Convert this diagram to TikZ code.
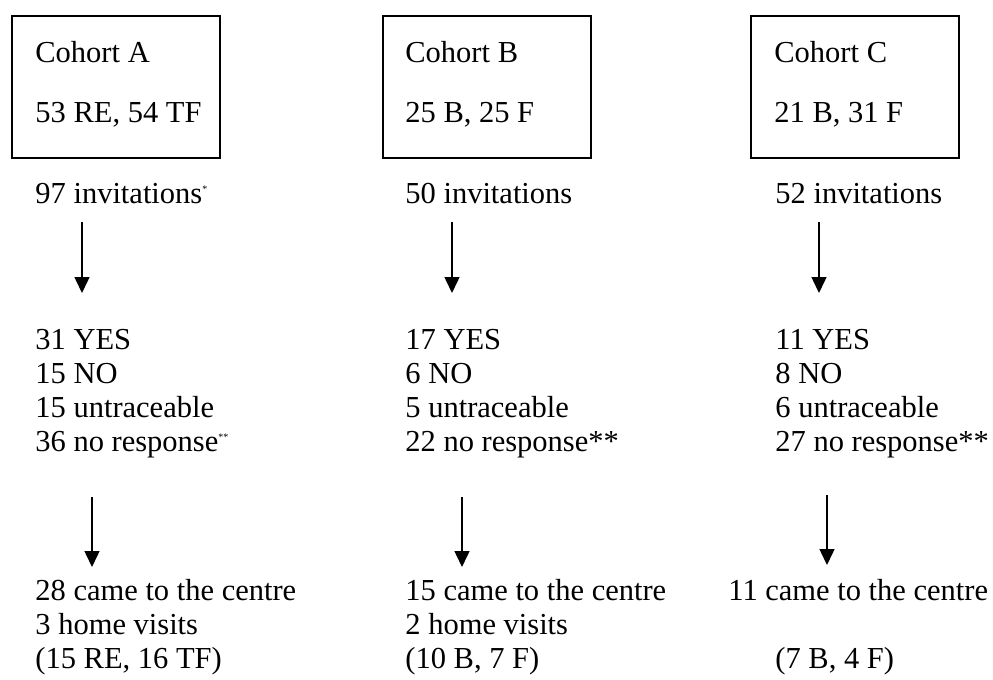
\documentclass[tikz,border=0pt]{standalone}
\usepackage{fontspec}
\setmainfont{Liberation Serif}
\usetikzlibrary{positioning,arrows.meta,calc}

\begin{document}
\begin{tikzpicture}[
    x=0.5pt, y=-0.5pt,
    cohort/.style={rectangle, draw, line width=0.9pt, anchor=north west, minimum width=104pt, minimum height=71pt, inner sep=0pt},
    count/.style={anchor=base west, inner sep=0pt, align=left, font=\fontsize{15.25pt}{17pt}\selectfont},
    arrow/.style={-{Triangle[width=7.5pt,length=8pt]}, line width=0.75pt}
]
\useasboundingbox (0,0) rectangle (993,680);

% Cohorts
\node[cohort] (cohA) at (11,15) {};
\node[cohort] (cohB) at (382,15) {};
\node[cohort] (cohC) at (750,15) {};
\node[count] (nameA) at (35,122) {Cohort A\\[13pt]53 RE, 54 TF};
\node[count] (nameB) at (405,122) {Cohort B\\[13pt]25 B, 25 F};
\node[count] (nameC) at (774,122) {Cohort C\\[13pt]21 B, 31 F};

% Invitations
\node[count] (invA) at (35,203) {97 invitations\textsuperscript{\tiny *}};
\node[count] (invB) at (405,203) {50 invitations};
\node[count] (invC) at (775,203) {52 invitations};

% Responses (base = last line)
\node[count] (respA) at (35,451) {31 YES\\15 NO\\15 untraceable\\36 no response\textsuperscript{\tiny **}};
\node[count] (respB) at (405,451) {17 YES\\6 NO\\5 untraceable\\22 no response**};
\node[count] (respC) at (775,451) {11 YES\\8 NO\\6 untraceable\\27 no response**};

% Attended
\node[count] (finA) at (35,668) {28 came to the centre\\3 home visits\\(15 RE, 16 TF)};
\node[count] (finB) at (405,668) {15 came to the centre\\2 home visits\\(10 B, 7 F)};
\node[count] (finC) at (728,668) {11 came to the centre\\[17pt]\hspace*{23.5pt}(7 B, 4 F)};

% Arrows
\draw[arrow] ($(invA.base west)+(47,19)$) -- ($(respA.base west)+(47,-158)$);
\draw[arrow] ($(invB.base west)+(47,19)$) -- ($(respB.base west)+(47,-158)$);
\draw[arrow] ($(invC.base west)+(44,19)$) -- ($(respC.base west)+(44,-158)$);
\draw[arrow] ($(respA.base west)+(57,46)$) -- ($(finA.base west)+(57,-101)$);
\draw[arrow] ($(respB.base west)+(57,46)$) -- ($(finB.base west)+(57,-101)$);
\draw[arrow] ($(respC.base west)+(52,44)$) -- ($(finC.base west)+(99,-103)$);

\end{tikzpicture}
\end{document}
